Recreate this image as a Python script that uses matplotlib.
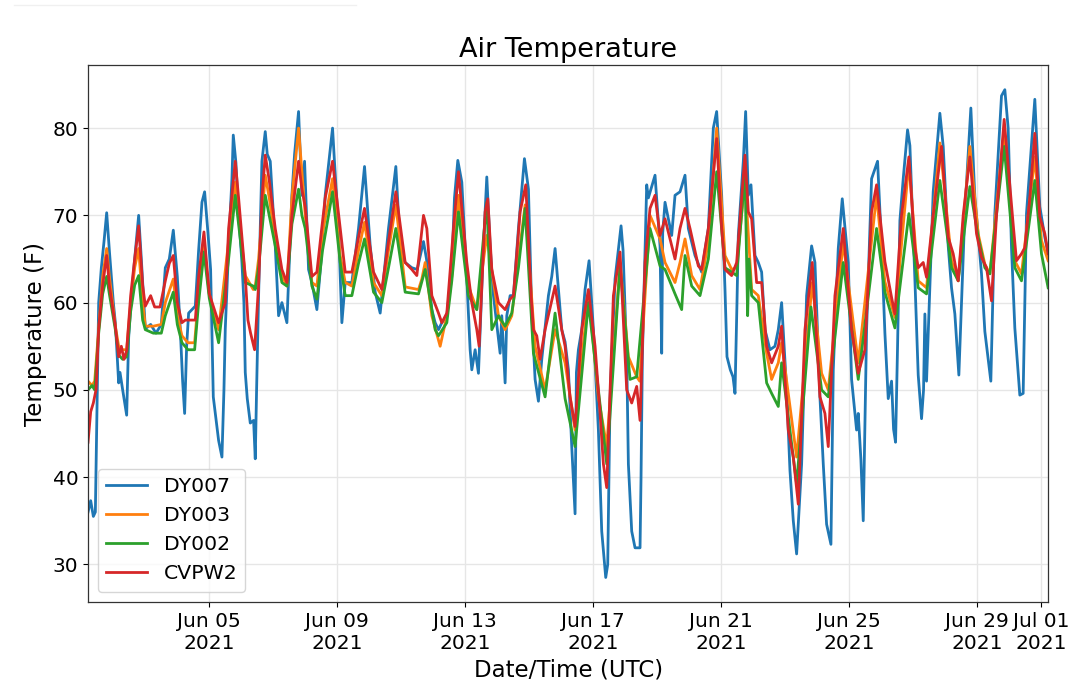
import matplotlib
matplotlib.use("Agg")
import matplotlib.pyplot as plt
import matplotlib.dates as mdates
from matplotlib.lines import Line2D
import pandas as pd

# hours after 2021-06-01 00:00 UTC
dy007_hours = [5, 7, 9, 10.5, 12, 13, 15, 17, 19, 21, 24, 25.5, 28, 29, 31, 34, 35.5, 37, 40, 43,
               45, 48, 52, 56, 60, 63, 66, 69, 72, 74, 76, 77.5, 79, 80.5, 85.5, 88, 90.5, 92.5, 95, 97,
               99, 103, 105.5, 107, 108, 111, 113, 114, 116, 118, 120.5, 122, 123, 124.5, 126.75, 129.25, 130.5, 131.5, 133, 135.5,
               138, 139.5, 141.75, 145.5, 148, 150.5, 154.25, 158, 160, 163, 165.5, 167.5, 170.5, 173, 176.75, 180, 183, 188.5, 190, 193,
               195.5, 198, 203, 208, 212.5, 216.75, 220.5, 224.25, 230.5, 236, 238, 240.5, 243, 248, 252, 256.75, 259, 263, 265.5, 268,
               270.5, 274.25, 278, 280, 282.5, 285.5, 289.25, 291.75, 293, 295.5, 298, 301.75, 304.25, 306.75, 309.25, 314.25, 315.5, 318, 319.25, 321.75,
               324.25, 328, 332.5, 335.5, 338, 340.5, 343, 345.5, 350.5, 353, 355.5, 360.5, 363, 365.5, 368, 370.5, 371.5, 373, 375.5, 378,
               381, 384.25, 388, 390.5, 393.5, 395, 396.75, 400.5, 405, 406.5, 409.25, 410.5, 413, 415.5, 419.25, 420, 421, 424.25, 425.5, 430.5,
               434.25, 435.5, 436.25, 438, 443, 445.5, 449.25, 453, 455.5, 460.5, 465.5, 470.5, 474.25, 476.75, 480.5, 483, 484.5, 487, 489, 490.5,
               492, 493, 496.75, 498.5, 500.5, 502.5, 505.5, 508, 510.5, 513, 516.75, 520.5, 523, 525.5, 529.25, 531.75, 534.25, 536.75, 540.5, 544.25,
               548, 550.5, 554.25, 556.75, 559.25, 562.5, 564.25, 568, 571, 575.5, 578, 581.75, 583, 585, 586.75, 589.25, 593, 597.5, 600.5, 603,
               605.5, 608, 609.5, 611, 612.5, 614.25, 616.75, 620, 621.75, 625.5, 628, 630.5, 632, 633, 634.25, 635.5, 639.25, 644.25, 646.75, 650.5,
               653, 655.5, 658.5, 663, 667.5, 670.5, 675.5, 678, 682.5, 685.5, 690.5, 693, 695.5, 698, 700.5, 704.25, 706.75, 709.25, 715.5, 719.25,
               723, 725.5]
dy007_temp = [36, 37.3, 35.5, 36, 50, 60, 64, 67, 70.3, 66, 60, 57.7, 50.8, 52, 50, 47.1, 56, 59.5, 65, 70,
              65, 57, 57.5, 56.5, 57.5, 64, 65, 68.3, 63, 57.7, 51, 47.3, 55, 58.8, 59.6, 66, 71.5, 72.7, 68, 63.8,
              49.2, 44.2, 42.3, 50, 57, 68, 74.2, 79.2, 76, 70, 64.6, 60, 52, 49, 46.2, 46.5, 42.1, 50, 60.8, 76.2,
              79.6, 77, 76.2, 66.5, 58.5, 60, 57.7, 72.3, 77, 81.9, 72.3, 76.2, 63.8, 62.3, 59.2, 65, 72.3, 80, 76, 68.5,
              57.7, 62.3, 62.3, 68.5, 75.6, 66.5, 61.2, 58.8, 68.5, 75.6, 70, 65.4, 64.6, 64, 63.8, 67, 65, 59.2, 57.7, 56.9,
              57.7, 58.5, 64, 72, 76.3, 73.8, 62.7, 54.6, 52.3, 54.6, 51.9, 66.5, 74.4, 66.5, 60.8, 54.2, 58.5, 50.8, 58.5, 60.8,
              60.8, 68.5, 76.5, 73, 58.8, 51.2, 48.7, 53.5, 60.8, 63, 66.2, 56.9, 55.5, 52.3, 43.5, 35.8, 52, 54.6, 56.9, 61.5,
              64.8, 56.9, 45.4, 33.8, 28.5, 30, 49.2, 62.7, 68.8, 66, 53.8, 41.5, 33.8, 31.9, 31.9, 40, 53.8, 73.5, 72, 74.6,
              66.5, 54.2, 68, 71.5, 67.7, 72.3, 72.7, 74.6, 68.5, 65.4, 63.5, 68.5, 80, 81.9, 72.3, 61.5, 53.8, 52.3, 51.5, 49.6,
              60, 67.7, 76.2, 81.9, 72.3, 73.5, 65.4, 64.6, 63.5, 56.9, 54.6, 55, 56.9, 60, 50, 40.8, 35, 31.2, 41.5, 60.8,
              66.5, 64.6, 49.2, 41.5, 34.6, 32.3, 52.3, 66.2, 71.9, 64.6, 51.2, 45.4, 47.3, 42, 35, 56.9, 74.2, 76.2, 66.5, 56.5,
              49, 51, 45.5, 44, 55, 69.4, 74.2, 79.8, 78, 62.7, 51.7, 46.7, 50, 58.7, 51, 56.5, 72.7, 81.7, 77.9, 66.5,
              61.7, 58.7, 51.7, 70.4, 82.3, 72.1, 63.3, 56.7, 51, 70.2, 83.7, 84.4, 80, 66.3, 57.1, 49.4, 49.6, 70.2, 83.3, 71,
              67.5, 65.6]

dy003_hours = [5, 8, 10, 13, 16, 19, 21, 25.5, 28, 31, 34, 37, 40, 43, 46, 48, 54, 60, 63, 69,
               72, 75.5, 80, 85, 88, 92, 96, 103, 110.5, 115.5, 118, 123, 129, 130.5, 133, 138, 141, 145.5, 150.5, 154.25,
               158, 163, 165.5, 168, 173, 176.75, 181, 188.5, 194.25, 198, 203, 208, 212.5, 219.25, 225.5, 230.5, 236, 243, 253, 255.5,
               258, 263, 269.25, 274.25, 278, 283, 290.5, 296.75, 304.25, 313, 318, 323, 328, 333, 340.5, 348, 355.5, 363, 370.5, 380.5,
               388, 394.25, 404.25, 410.5, 416.75, 419, 426.75, 434.25, 438, 445.5, 449.25, 453, 458, 464.25, 470.5, 476.75, 483, 488, 491.75, 498,
               503, 508, 514.25, 518, 523, 525.5, 536.75, 548.5, 555.5, 560.5, 571.75, 583, 596.75, 603, 610.5, 621, 628, 634.25, 644.25, 653,
               658, 666.75, 673, 678, 681.75, 692.5, 700.5, 705.5, 715.5, 720.5, 725.5]
dy003_temp = [51, 50.5, 51, 57, 63, 66.2, 63, 57.3, 55, 54.6, 54.6, 60, 64, 66.2, 60, 57.3, 57.3, 57.5, 60, 62.7,
              58.5, 56.2, 55.4, 55.4, 61, 66.5, 61, 56.9, 67, 73.8, 70, 63.1, 61.5, 61.9, 65, 74.6, 72, 67.3, 63.1, 61.9,
              72, 80, 75, 70, 62.3, 61.9, 68, 74.2, 65.4, 62.3, 61.9, 66, 69.2, 62.3, 60.8, 66, 71.2, 61.8, 61.5, 62.7,
              64.6, 58.5, 55, 58.5, 63, 72.3, 61.9, 59.2, 67.7, 58.5, 56.9, 58.5, 65, 71.2, 55, 50, 56.9, 53.1, 45.4, 61.2,
              49.2, 43.5, 64.6, 53.8, 51.5, 51, 70, 67.3, 64.6, 62.3, 64.6, 67.3, 63.1, 61.5, 67, 80, 65.4, 63.8, 64, 74.2,
              61.5, 60.8, 54.2, 51.2, 53.1, 55.4, 42.3, 62.3, 51.9, 50, 66.9, 53.1, 72.3, 62.4, 58.3, 76, 62.5, 61.7, 78.3, 64.8,
              62.5, 77.9, 67.9, 64.4, 63.3, 79.8, 64.8, 63.3, 76.7, 67.1, 64.8]

dy002_hours = [5, 8, 10, 13, 16, 19, 21, 25.5, 28, 31, 34, 37, 40, 43, 46, 48, 54, 60, 63, 69,
               72, 75.5, 80, 85, 88, 92, 96, 103, 110.5, 115.5, 118, 123, 129, 130.5, 133, 138, 141, 145.5, 150.5, 154.25,
               158, 163, 165.5, 168, 173, 176.75, 181, 188.5, 194.25, 198, 203, 208, 212.5, 219.25, 225.5, 230.5, 236, 243, 253, 258,
               265.5, 268, 274.25, 278, 283, 290.5, 296.75, 304.25, 308, 313, 318, 323, 328, 333, 339.25, 348, 355.5, 360.5, 363, 370.5,
               380.5, 388, 394.25, 404.25, 411.75, 416.75, 426.75, 434.25, 438, 445.5, 450.5, 453, 458, 464.25, 470.5, 476.75, 483, 488, 491.75, 498,
               500, 501, 503, 508, 514.25, 518, 523, 525.5, 536.75, 547.5, 555.5, 560.5, 571.75, 583, 596.75, 603, 610.5, 621, 628, 634.25,
               644.25, 653, 658, 666.75, 673, 678, 681.75, 692.5, 700.5, 705.5, 715.5, 720.5, 725.5]
dy002_temp = [50, 50.5, 50, 56.5, 61, 63, 61, 56.9, 54, 53.5, 53.8, 59, 62, 63.1, 58, 56.9, 56.5, 56.5, 58.5, 61.2,
              57.5, 55.4, 54.6, 54.6, 60, 65.8, 60.5, 55.4, 65, 72.3, 69, 62.3, 61.9, 61.5, 64, 72.3, 70, 66.5, 62.3, 61.9,
              69, 73, 70, 68.5, 61.9, 60.4, 66, 72.7, 64.6, 60.8, 60.8, 64.5, 67.3, 61.2, 60, 64, 68.5, 61.2, 61, 63.8,
              56.9, 56.2, 57.7, 62.5, 70.4, 60.8, 59.2, 71.5, 56.9, 58.5, 57.3, 58.8, 64, 70.8, 54.2, 49.2, 58.8, 52.3, 49, 43.5,
              60, 50, 41.5, 64.2, 51.2, 51.5, 68.5, 64.2, 63.8, 61, 59.2, 65.4, 61.9, 60.8, 65, 75, 64, 63.5, 63.1, 75,
              58.5, 65, 60.8, 60, 50.8, 49.6, 48.1, 53.1, 39.2, 59.5, 50, 49.2, 64.6, 51.2, 68.5, 61.2, 57.1, 70.2, 61.7, 61,
              74, 64, 62.5, 73.3, 67.5, 64, 63.3, 77.9, 64, 62.5, 74, 65.6, 61.7]

cvpw2_hours = [5, 7, 9, 11, 13, 16, 19, 21, 25.5, 28, 30, 32, 34, 37, 40, 43, 46, 48, 52, 55,
               59, 63, 66, 69, 72, 75.5, 78, 82, 85.5, 88, 92, 96, 103, 108, 110.5, 115.5, 118, 123, 125, 127,
               130, 131, 133, 135.5, 138, 141, 145.5, 150.5, 154.25, 158, 163, 165.5, 168, 173, 176.75, 180, 183, 188.5, 194.25, 198,
               203, 208, 212.5, 219.25, 225.5, 230.5, 236, 243, 248, 251.75, 256.75, 259.25, 263, 268, 270.5, 274.25, 279.25, 283, 289.25, 293,
               296.75, 298.5, 303, 305, 308, 313, 318, 321.75, 324.25, 329.25, 333.5, 337.5, 339.25, 341.75, 344.25, 348, 355.5, 360.5, 363, 366.75,
               370.5, 375.5, 380.5, 385.5, 389.25, 391.75, 394.25, 399.25, 404.25, 409.25, 413, 416.75, 419.25, 423, 426.75, 430.5, 434.25, 438, 443, 445.5,
               449.25, 453, 456.75, 463, 465.5, 470.5, 476.75, 480.5, 483, 488, 491.75, 498, 500.5, 503, 506.75, 510.5, 514.25, 518, 523, 525.5,
               530.5, 534.25, 538, 543, 548.5, 554.25, 558, 560.5, 565.5, 571.75, 578, 583, 588, 593, 596.75, 603, 608, 610.5, 615.5, 621,
               625.5, 628, 631.75, 634.25, 639.25, 645.5, 650.5, 654.25, 658, 661.75, 666.75, 671.75, 675.5, 679.25, 683, 686.75, 692.5, 699.25, 701.75, 705.5,
               708, 711.75, 715.5, 719.25, 723, 725.5]
cvpw2_temp = [44, 47.5, 48.5, 50, 57, 62, 65.4, 62, 57.3, 53.8, 55, 53.5, 54.5, 60.8, 65, 68.8, 62, 59.6, 60.8, 59.5,
              59.5, 62.5, 64.5, 65.4, 60, 57.7, 58, 58, 58, 63, 68.1, 61, 57.7, 60, 68.5, 76.2, 72, 63, 58, 56.5,
              54.6, 57, 62, 72, 76.9, 74, 68.5, 63.8, 62.3, 70, 76.2, 73, 71, 63, 63.5, 68, 72, 76.2, 68.5, 63.5,
              63.5, 67.5, 70.8, 63.5, 61.5, 67, 72.7, 64.6, 63.8, 63.1, 70, 68.5, 60.8, 58.8, 57.7, 58.8, 68.5, 75, 64.6, 60,
              56.9, 55, 70.4, 71.9, 63.8, 60, 59.2, 60.4, 60.8, 70.4, 73.5, 60.8, 56.9, 56.2, 53.5, 56.9, 61.9, 56.9, 55, 49.2,
              45.8, 56.9, 61.5, 55, 47.3, 41.5, 38.8, 60.8, 65.8, 50, 48.5, 50.4, 46.5, 64.6, 70.8, 72.3, 67.7, 69.6, 66.5, 65,
              68.5, 70.8, 68.5, 64.2, 63.8, 68.5, 78.8, 68.5, 63.8, 63.1, 64.6, 76.9, 70.4, 69.6, 62.3, 62.3, 55, 53.1, 55, 57.3,
              45.4, 42.3, 36.9, 56.9, 64.6, 49.2, 47.3, 43.5, 60.8, 68.5, 56.9, 51.9, 54.6, 70.4, 73.5, 64.7, 60.6, 58.7, 70, 76.7,
              66.3, 64, 64.6, 62.9, 70, 77.9, 67.5, 65.6, 62.5, 70, 76.7, 67.9, 65.2, 64, 60.2, 70, 81, 69, 64.8, 65.6,
              66.3, 72, 79.4, 69.8, 67.9, 65.6]

stations = ["DY007", "DY003", "DY002", "CVPW2"]
series_hours = [dy007_hours, dy003_hours, dy002_hours, cvpw2_hours]
series_temp = [dy007_temp, dy003_temp, dy002_temp, cvpw2_temp]
colors = ["#1f77b4", "#ff7f0e", "#2ca02c", "#d62728"]

start = pd.Timestamp("2021-06-01 00:00")

fig = plt.figure(figsize=(10.8, 6.95), dpi=100)
ax = fig.add_axes([0.0815, 0.134, 0.889, 0.772])

for name, hrs, temps, c in zip(stations, series_hours, series_temp, colors):
    t = start + pd.to_timedelta(hrs, unit="h")
    ax.plot(t, temps, color=c, linewidth=2, label=name)

ax.set_xlim(start + pd.Timedelta(hours=5), start + pd.Timedelta(hours=725.5))
ax.margins(y=0.05)

ax.xaxis.set_major_locator(mdates.DayLocator(bymonthday=[1, 5, 9, 13, 17, 21, 25, 29]))
ax.xaxis.set_major_formatter(mdates.DateFormatter("%b %d\n%Y"))

ax.grid(True, color="#e6e6e6", linewidth=1)
ax.set_axisbelow(True)
for s in ax.spines.values():
    s.set_color("#333333")
    s.set_linewidth(0.9)

ax.tick_params(labelsize=14.5)
ax.set_title("Air Temperature", fontsize=19.5)
ax.set_xlabel("Date/Time (UTC)", fontsize=16.5)
ax.set_ylabel("Temperature (F)", fontsize=16.5)
ax.legend(loc="lower left", fontsize=14.7)

# faint line in the top-left corner of the original image
fig.add_artist(Line2D([0.013, 0.33], [0.993, 0.993], color="#f0f0f0", linewidth=1))

fig.savefig("out.png", dpi=100)
